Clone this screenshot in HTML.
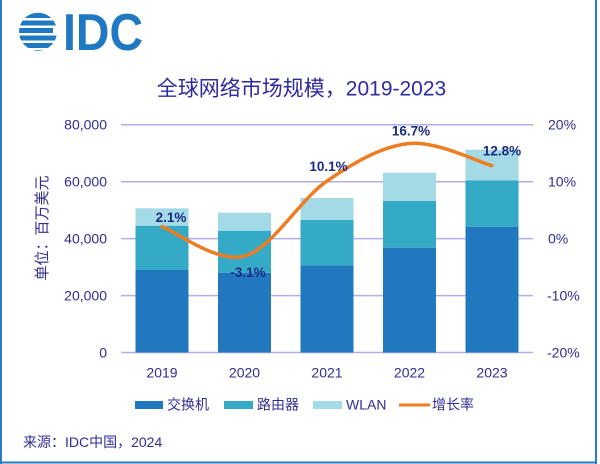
<!DOCTYPE html>
<html>
<head>
<meta charset="utf-8">
<style>
  html,body{margin:0;padding:0;background:#fff;}
  svg{display:block;}
  text{font-family:"Liberation Sans","Noto Sans CJK SC",sans-serif;}
</style>
</head>
<body>
<svg width="600" height="464" viewBox="0 0 600 464" xmlns="http://www.w3.org/2000/svg">
  <rect x="0" y="0" width="600" height="464" fill="#fff"/>
  <!-- frame -->
  <rect x="0" y="0" width="2" height="464" fill="#2a7bc6"/>
  <rect x="595" y="0" width="2" height="464" fill="#2a7bc6"/>
  <rect x="0" y="461.5" width="597" height="2" fill="#2a7bc6"/>

  <!-- logo -->
  <defs>
    <clipPath id="globe"><circle cx="38" cy="31.7" r="19"/></clipPath>
  </defs>
  <g clip-path="url(#globe)" fill="#1f79c2">
    <rect x="22" y="12" width="32" height="6"/>
    <rect x="17" y="20.5" width="42" height="5"/>
    <rect x="15" y="28" width="38" height="5"/>
    <rect x="19" y="35.5" width="40" height="5"/>
    <rect x="17" y="43" width="42" height="5"/>
    <rect x="22" y="50" width="32" height="4"/>
  </g>
  <text x="63" y="50" font-size="52" font-weight="bold" fill="#1f79c2" textLength="80" lengthAdjust="spacingAndGlyphs">IDC</text>

  <!-- title -->
  <text x="301.5" y="95.5" font-size="21" fill="#2e2aa0" text-anchor="middle">全球网络市场规模，2019-2023</text>

  <!-- gridlines -->
  <g stroke="#b3aeea" stroke-width="1.5">
    <line x1="121" y1="124.7" x2="533" y2="124.7"/>
    <line x1="121" y1="181.7" x2="533" y2="181.7"/>
    <line x1="121" y1="238.6" x2="533" y2="238.6"/>
    <line x1="121" y1="295.6" x2="533" y2="295.6"/>
    <line x1="121" y1="352.5" x2="533" y2="352.5"/>
  </g>

  <!-- left axis labels -->
  <g font-size="14" fill="#2f2d94" text-anchor="end">
    <text x="107" y="129.7">80,000</text>
    <text x="107" y="186.7">60,000</text>
    <text x="107" y="243.6">40,000</text>
    <text x="107" y="300.6">20,000</text>
    <text x="107" y="357.5">0</text>
  </g>
  <!-- right axis labels -->
  <g font-size="14" fill="#2f2d94" text-anchor="start">
    <text x="548" y="129.7">20%</text>
    <text x="548" y="186.7">10%</text>
    <text x="548" y="243.6">0%</text>
    <text x="547" y="300.6">-10%</text>
    <text x="547" y="357.5">-20%</text>
  </g>

  <!-- y axis title -->
  <text x="0" y="0" font-size="15" fill="#2f2d94" text-anchor="middle" transform="translate(47,228) rotate(-90)">单位：百万美元</text>

  <!-- bars -->
  <!-- 2019 -->
  <rect x="135.5" y="270" width="53" height="82.5" fill="#2278bf"/>
  <rect x="135.5" y="225.7" width="53" height="44.3" fill="#35aac6"/>
  <rect x="135.5" y="208.3" width="53" height="17.4" fill="#a4dae6"/>
  <!-- 2020 -->
  <rect x="218" y="272.7" width="53" height="79.8" fill="#2278bf"/>
  <rect x="218" y="230.7" width="53" height="42" fill="#35aac6"/>
  <rect x="218" y="212.7" width="53" height="18" fill="#a4dae6"/>
  <!-- 2021 -->
  <rect x="300.5" y="265.3" width="53" height="87.2" fill="#2278bf"/>
  <rect x="300.5" y="220" width="53" height="45.3" fill="#35aac6"/>
  <rect x="300.5" y="198" width="53" height="22" fill="#a4dae6"/>
  <!-- 2022 -->
  <rect x="383" y="247.7" width="53" height="104.8" fill="#2278bf"/>
  <rect x="383" y="201" width="53" height="46.7" fill="#35aac6"/>
  <rect x="383" y="172.7" width="53" height="28.3" fill="#a4dae6"/>
  <!-- 2023 -->
  <rect x="465.5" y="226.7" width="53" height="125.8" fill="#2278bf"/>
  <rect x="465.5" y="180.3" width="53" height="46.4" fill="#35aac6"/>
  <rect x="465.5" y="149.7" width="53" height="30.6" fill="#a4dae6"/>

  <!-- growth line -->
  <path d="M162,226.6 C175.8,231.5 217.1,263.7 244.6,256.1 C272.1,248.5 299.5,199.8 327,181 C354.5,162.2 381.9,146.1 409.4,143.5 C436.9,140.9 478.1,161.9 491.8,165.6"
        fill="none" stroke="#ee7d22" stroke-width="3.5" stroke-linecap="round" stroke-linejoin="round"/>

  <!-- data labels -->
  <g font-size="13.5" font-weight="bold" fill="#1a2a82" text-anchor="middle">
    <text x="171" y="222">2.1%</text>
    <text x="248" y="277">-3.1%</text>
    <text x="328.5" y="171">10.1%</text>
    <text x="411" y="135.5">16.7%</text>
    <text x="502" y="155.5">12.8%</text>
  </g>

  <!-- x labels -->
  <g font-size="14" fill="#2f2d94" text-anchor="middle">
    <text x="162" y="377.5">2019</text>
    <text x="244.5" y="377.5">2020</text>
    <text x="327" y="377.5">2021</text>
    <text x="409.5" y="377.5">2022</text>
    <text x="492" y="377.5">2023</text>
  </g>

  <!-- legend -->
  <rect x="135" y="401" width="28" height="8" fill="#2278bf"/>
  <text x="167" y="409.5" font-size="14" fill="#2f2d94">交换机</text>
  <rect x="224" y="401" width="29" height="8" fill="#35aac6"/>
  <text x="257" y="409.5" font-size="14" fill="#2f2d94">路由器</text>
  <rect x="313" y="401" width="29" height="8" fill="#a4dae6"/>
  <text x="346" y="409.5" font-size="14" fill="#2f2d94">WLAN</text>
  <rect x="399" y="403.5" width="31" height="3" fill="#ee7d22"/>
  <text x="432" y="409.5" font-size="14" fill="#2f2d94">增长率</text>

  <!-- source -->
  <text x="23" y="447" font-size="14" fill="#2f2d94">来源：IDC中国，2024</text>
</svg>
</body>
</html>
